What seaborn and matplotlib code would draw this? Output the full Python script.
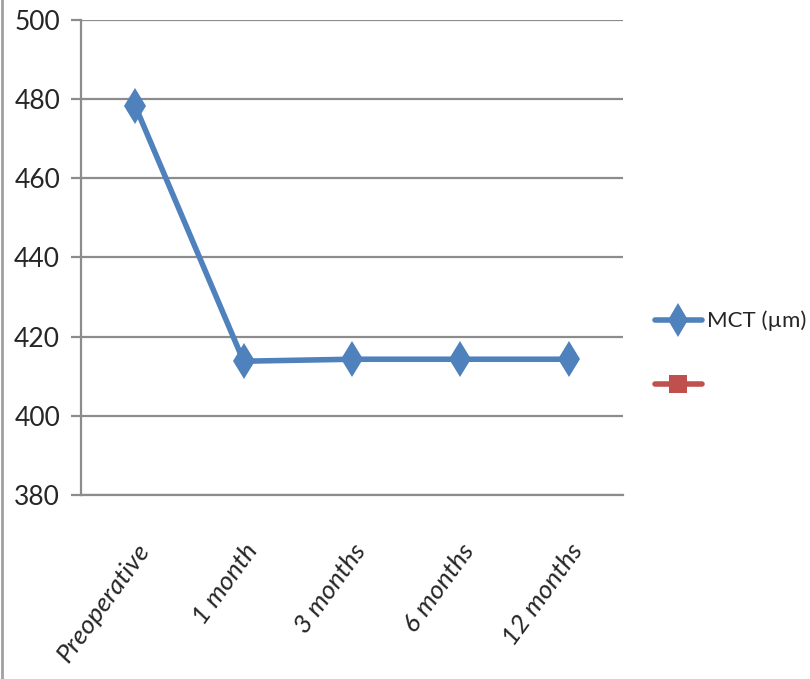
import matplotlib
matplotlib.use("Agg")
import matplotlib.pyplot as plt
from matplotlib.lines import Line2D
import seaborn as sns
import pandas as pd
import numpy as np

# Data
categories = ["Preoperative", "1 month", "3 months", "6 months", "12 months"]
mct_values = [478.3, 413.8, 414.3, 414.3, 414.3]
y_ticks = [380, 400, 420, 440, 460, 480, 500]

blue = "#4F81BD"
red = "#C0504D"
grid_gray = "#8C8C8C"

sns.set_theme(style="white")
plt.rcParams["font.family"] = ["Lato", "DejaVu Sans"]

fig = plt.figure(figsize=(8.1, 6.79), dpi=100)
ax = fig.add_axes([81 / 810, 1 - 495 / 679, (623 - 81) / 810, (495 - 20) / 679])

df = pd.DataFrame({"pos": np.arange(len(categories)), "MCT": mct_values})
sns.lineplot(data=df, x="pos", y="MCT", ax=ax, color=blue, linewidth=4.0,
             marker="d", markersize=18, markeredgewidth=0, markerfacecolor=blue,
             zorder=3)

ax.set_xlim(-0.5, len(categories) - 0.5)
ax.set_ylim(380, 500)
ax.set_yticks(y_ticks)
ax.set_yticklabels([str(v) for v in y_ticks], fontsize=19)
ax.yaxis.grid(True, color=grid_gray, linewidth=1.6)
ax.set_axisbelow(True)

ax.set_xticks(np.arange(len(categories)))
ax.set_xticklabels(categories, fontsize=19, style="italic", rotation=54,
                   ha="right", va="top", rotation_mode="anchor")
ax.tick_params(axis="x", which="major", length=0, pad=32)
ax.set_xticks(np.arange(-0.5, len(categories)), minor=True)
ax.tick_params(axis="x", which="minor", length=9, width=1.6, color=grid_gray,
               direction="out")
ax.tick_params(axis="y", length=7, width=1.6, color=grid_gray, direction="out",
               pad=8, left=True)
ax.set_xlabel("")
ax.set_ylabel("")

for side in ["top", "right"]:
    ax.spines[side].set_visible(False)
for side in ["left", "bottom"]:
    ax.spines[side].set_color(grid_gray)
    ax.spines[side].set_linewidth(1.6)

# Legend
handles = [
    Line2D([], [], color=blue, linewidth=4.0, marker="d", markersize=17,
           markeredgewidth=0),
    Line2D([], [], color=red, linewidth=4.0, marker="s", markersize=13,
           markeredgewidth=0),
]
fig.legend(handles, ["MCT (µm)", " "], loc="upper left",
           bbox_to_anchor=(646 / 810, 1 - 302 / 679), frameon=False,
           fontsize=16, handlelength=2.1, handletextpad=0.25, labelspacing=2.0,
           borderaxespad=0.0)

# Outer left border
fig.add_artist(Line2D([2 / 810, 2 / 810], [0, 1], color="#A0A0A0",
                      linewidth=2, transform=fig.transFigure))

fig.savefig("out.png", dpi=100)
